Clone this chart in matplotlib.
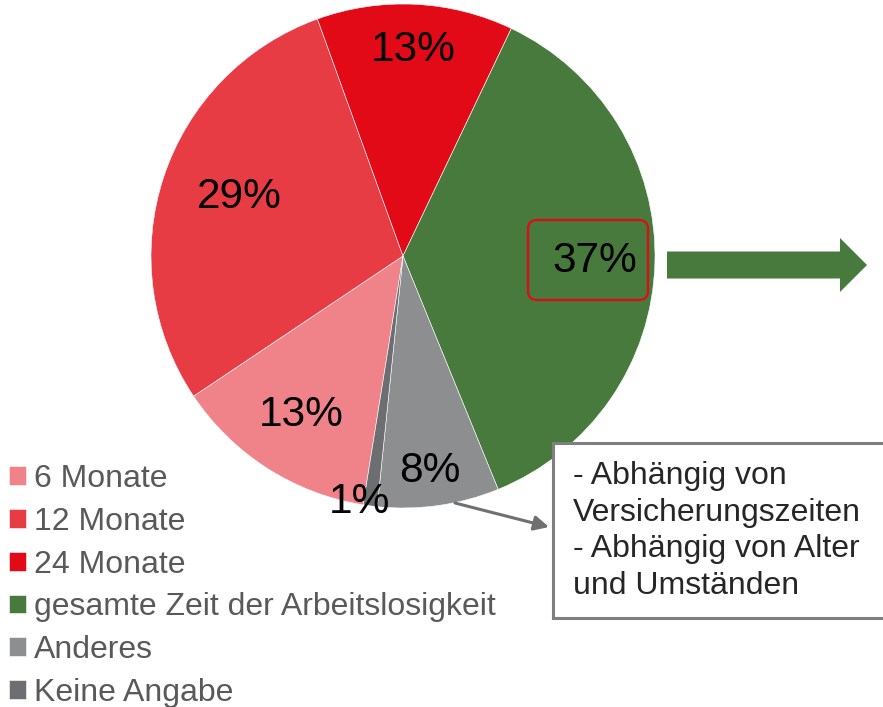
import numpy as np
import matplotlib
matplotlib.use("Agg")
import matplotlib.pyplot as plt
import matplotlib.patches as mpatches

plt.rcParams['font.family'] = ['Liberation Sans', 'DejaVu Sans']

# data
categories = ["6 Monate", "12 Monate", "24 Monate",
              "gesamte Zeit der Arbeitslosigkeit", "Anderes", "Keine Angabe"]
values = [13.1, 28.9, 12.6, 36.8, 7.8, 0.9]
value_labels = ["13%", "29%", "13%", "37%", "8%", "1%"]
colors = ["#F0828A", "#E83C44", "#E30A17", "#48793D", "#8D8E90", "#6D6E72"]
label_dist = [0.75, 0.69, 0.82, 0.76, 0.86, 0.99]
label_shift = [0, -1.5, 0, 0, -1, -2.5]  # degrees, small nudges
note_text = "- Abhängig von\nVersicherungszeiten\n- Abhängig von Alter\nund Umständen"

W, H = 883, 707


def Y(y_img):
    # image pixel row -> data y (y-up)
    return H - y_img


fig = plt.figure(figsize=(W / 100, H / 100), dpi=100)
ax = fig.add_axes([0, 0, 1, 1])

cx, cy, r = 403, Y(256), 252
wedges, _ = ax.pie(values, colors=colors, startangle=-99.1, counterclock=False,
                   center=(cx, cy), radius=r, frame=True,
                   wedgeprops=dict(edgecolor="white", linewidth=0.4))
ax.set_xlim(0, W)
ax.set_ylim(0, H)
ax.set_aspect("equal")
ax.axis("off")

for w, lab, d, s in zip(wedges, value_labels, label_dist, label_shift):
    mid = np.deg2rad((w.theta1 + w.theta2) / 2 + s)
    ax.text(cx + d * r * np.cos(mid), cy + d * r * np.sin(mid), lab,
            ha="center", va="center", fontsize=30.5, color="black")

# red rounded frame around 37%
ax.add_patch(mpatches.FancyBboxPatch((528, Y(300)), 120, 80,
                                     boxstyle="round,pad=0,rounding_size=9",
                                     fill=False, edgecolor="#E30A17", linewidth=1.6))

# green arrow
ax.add_patch(mpatches.FancyArrow(667, Y(265), 200, 0, width=27, head_width=54,
                                 head_length=27, length_includes_head=True,
                                 color="#48793D", linewidth=0))

# note box
ax.add_patch(mpatches.Rectangle((553, Y(618)), 340, 175, facecolor="white",
                                edgecolor="#7F7F7F", linewidth=2.2, clip_on=False))
ax.text(573, Y(531), note_text, ha="left", va="center", fontsize=23,
        color="#262626", linespacing=1.3)

# grey pointer arrow
ax.annotate("", xy=(549, Y(527)), xytext=(455, Y(503)),
            arrowprops=dict(arrowstyle="-|>", color="#707070", lw=2.2,
                            mutation_scale=22, shrinkA=0, shrinkB=0))

leg = ax.legend(wedges, categories, loc="upper left",
                bbox_to_anchor=(9 / W, 1 - 464 / H), frameon=False,
                fontsize=23, handlelength=0.52, handleheight=0.52,
                handletextpad=0.25, labelspacing=0.4, borderpad=0,
                borderaxespad=0)
for t in leg.get_texts():
    t.set_color("#595959")

fig.savefig("out.png", dpi=100)
